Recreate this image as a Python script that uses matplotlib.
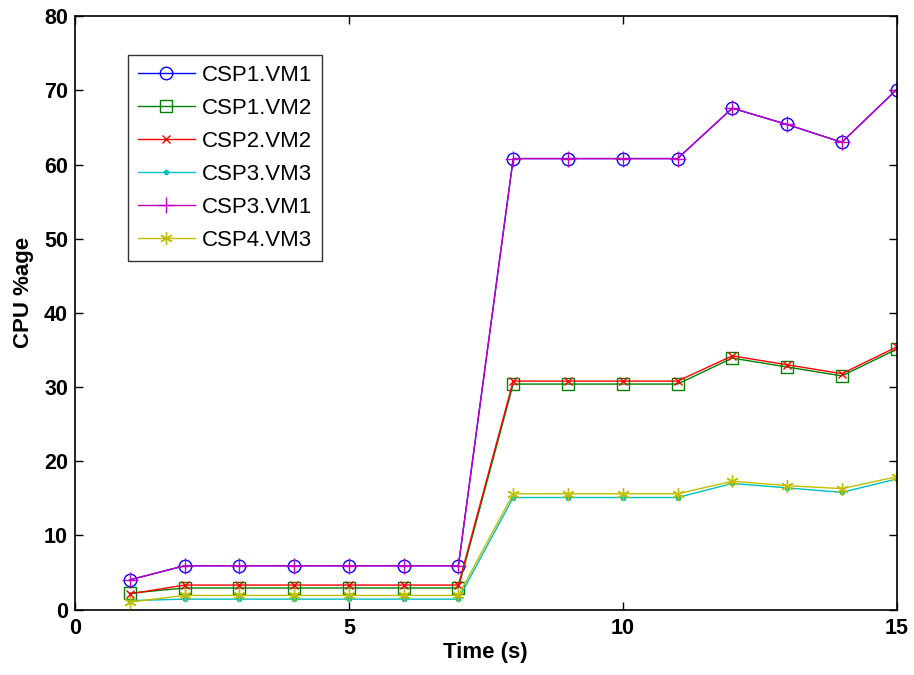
import numpy as np
import matplotlib
matplotlib.use('Agg')
import matplotlib.pyplot as plt

plt.rcParams['font.family'] = ['Liberation Sans', 'DejaVu Sans']

t = np.arange(1, 16)

csp1_vm1 = [4.0, 5.9, 5.9, 5.9, 5.9, 5.9, 5.9, 60.8, 60.8, 60.8, 60.8, 67.6, 65.4, 63.0, 70.1]
csp1_vm2 = [2.2, 2.9, 2.9, 2.9, 2.9, 2.9, 2.9, 30.4, 30.4, 30.4, 30.4, 33.9, 32.7, 31.5, 35.1]
csp2_vm2 = [2.1, 3.3, 3.3, 3.3, 3.3, 3.3, 3.3, 30.8, 30.8, 30.8, 30.8, 34.2, 33.0, 31.8, 35.4]
csp3_vm3 = [1.2, 1.4, 1.4, 1.4, 1.4, 1.4, 1.4, 15.1, 15.1, 15.1, 15.1, 17.0, 16.4, 15.8, 17.6]
csp3_vm1 = [4.0, 5.9, 5.9, 5.9, 5.9, 5.9, 5.9, 60.8, 60.8, 60.8, 60.8, 67.6, 65.4, 63.0, 70.1]
csp4_vm3 = [1.0, 1.9, 1.9, 1.9, 1.9, 1.9, 1.9, 15.6, 15.6, 15.6, 15.6, 17.3, 16.7, 16.3, 17.9]

labels = ['CSP1.VM1', 'CSP1.VM2', 'CSP2.VM2', 'CSP3.VM3', 'CSP3.VM1', 'CSP4.VM3']
series = [csp1_vm1, csp1_vm2, csp2_vm2, csp3_vm3, csp3_vm1, csp4_vm3]

# old matlab colour order and marker set
colors = ['#0000ff', '#008000', '#ff0000', '#00bfbf', '#bf00bf', '#bfbf00']
markers = ['o', 's', 'x', '.', '+', (6, 2, 0)]
msizes = [9, 9, 6, 6, 11, 9]

fig = plt.figure(figsize=(9.14, 6.75), dpi=100)
ax = fig.add_axes([0.082, 0.097, 0.899, 0.879])

for y, lab, c, m, ms in zip(series, labels, colors, markers, msizes):
    face = c if m == '.' else 'none'
    ax.plot(t, y, color=c, marker=m, markersize=ms, markerfacecolor=face,
            markeredgecolor=c, markeredgewidth=1.0, linewidth=1.0, label=lab)

ax.set_xlim(0, 15)
ax.set_ylim(0, 80)
ax.set_xticks([0, 5, 10, 15])
ax.set_yticks(np.arange(0, 81, 10))
ax.tick_params(direction='in', top=True, right=True, length=6, width=1,
               labelsize=15.5)
ax.tick_params(axis='x', pad=6)
ax.tick_params(axis='y', pad=5)
for lbl in ax.get_xticklabels() + ax.get_yticklabels():
    lbl.set_fontweight('bold')
for s in ax.spines.values():
    s.set_linewidth(1.2)

ax.set_xlabel('Time (s)', fontsize=16, fontweight='bold')
ax.set_ylabel('CPU %age', fontsize=16, fontweight='bold')
ax.xaxis.set_label_coords(0.5, -0.055)
ax.yaxis.set_label_coords(-0.05, 0.534)

leg = ax.legend(loc='upper left', bbox_to_anchor=(0.064, 0.935), fontsize=16,
                frameon=True, fancybox=False, edgecolor='black', borderpad=0.45,
                labelspacing=0.54, handlelength=2.6, handletextpad=0.3,
                borderaxespad=0)
leg.get_frame().set_linewidth(1.0)

fig.savefig('out.png', dpi=100)
